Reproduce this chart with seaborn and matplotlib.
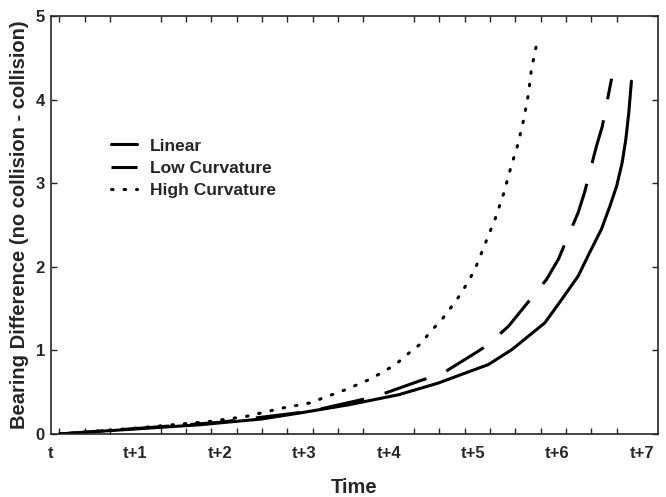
import numpy as np
import pandas as pd
import matplotlib
matplotlib.use('Agg')
import matplotlib.pyplot as plt
import seaborn as sns

# values
linear_time = [0.1, 1.0, 1.76, 2.5, 2.94, 3.53, 4.12, 4.59, 4.91, 5.18, 5.46,
               5.85, 6.05, 6.245, 6.38, 6.52, 6.62, 6.70, 6.765, 6.809, 6.844, 6.875]
linear_diff = [0.0, 0.06, 0.11, 0.18, 0.25, 0.35, 0.47, 0.61, 0.73, 0.83, 1.01,
               1.33, 1.61, 1.89, 2.17, 2.45, 2.725, 2.965, 3.245, 3.525, 3.845, 4.22]

low_time = [0.1, 1.0, 2.0, 3.06, 3.59, 3.85, 4.38, 4.63, 5.06, 5.18, 5.42,
            5.87, 6.01, 6.245, 6.32, 6.46, 6.53, 6.64]
low_diff = [0.0, 0.065, 0.14, 0.27, 0.39, 0.45, 0.64, 0.72, 0.99, 1.07, 1.29,
            1.85, 2.09, 2.65, 2.89, 3.44, 3.68, 4.25]

high_time = [0.1, 1.0, 1.88, 2.31, 2.74, 3.06, 3.49, 3.79, 4.08, 4.23, 4.38,
             4.50, 4.63, 4.75, 4.85, 4.94, 5.02, 5.14, 5.26, 5.36, 5.44, 5.53,
             5.60, 5.655, 5.69, 5.753]
high_diff = [0.0, 0.07, 0.15, 0.21, 0.31, 0.37, 0.53, 0.66, 0.83, 0.96, 1.08,
             1.23, 1.37, 1.53, 1.67, 1.82, 1.965, 2.27, 2.57, 2.87, 3.165, 3.465,
             3.765, 4.065, 4.36, 4.67]

curve_names = ['Linear', 'Low Curvature', 'High Curvature']
time_labels = ['t', 't+1', 't+2', 't+3', 't+4', 't+5', 't+6', 't+7']

df = pd.concat([
    pd.DataFrame({'time': linear_time, 'diff': linear_diff, 'curve': 'Linear'}),
    pd.DataFrame({'time': low_time, 'diff': low_diff, 'curve': 'Low Curvature'}),
    pd.DataFrame({'time': high_time, 'diff': high_diff, 'curve': 'High Curvature'}),
], ignore_index=True)

sns.set_style('ticks')
plt.rcParams['font.family'] = ['Liberation Sans', 'DejaVu Sans']
plt.rcParams['font.weight'] = 'bold'

fig = plt.figure(figsize=(6.66, 4.97), dpi=100)
ax = fig.add_axes([0.0766, 0.1268, 0.9114, 0.841])

sns.lineplot(data=df, x='time', y='diff', hue='curve', style='curve',
             hue_order=curve_names, style_order=curve_names,
             palette=['black'] * 3,
             dashes={'Linear': '', 'Low Curvature': (14.5, 7),
                     'High Curvature': (0.5, 3.6)},
             sort=False, linewidth=2.2, ax=ax)

for ln in ax.get_lines():
    ln.set_dash_capstyle('butt')
ax.get_lines()[2].set_dash_capstyle('round')

ax.set_xlim(0, 7.19)
ax.set_ylim(0, 5)
ax.set_xticks(range(8))
ax.set_xticklabels(time_labels)
ax.set_xticks(np.arange(0.1, 7.05, 0.3), minor=True)
ax.set_yticks(range(6))
ax.tick_params(axis='x', which='major', length=0, pad=9, labelsize=12)
ax.tick_params(axis='x', which='minor', direction='in', length=4, width=1,
               top=True, bottom=True)
ax.tick_params(axis='y', which='major', direction='in', length=4, width=1,
               left=True, right=True, labelsize=12, pad=4.5)
for sp in ax.spines.values():
    sp.set_linewidth(1.2)

ax.set_xlabel('Time', fontsize=14.5, fontweight='bold', labelpad=12)
ax.set_ylabel('Bearing Difference (no collision - collision)', fontsize=14.5,
              fontweight='bold', labelpad=5)

leg = ax.legend(loc='upper left', bbox_to_anchor=(0.084, 0.728), frameon=False,
                fontsize=12.5, handlelength=1.5, handletextpad=0.75,
                borderpad=0, labelspacing=0.4)
for t in leg.get_texts():
    t.set_fontweight('bold')
for i, h in enumerate(leg.get_lines()):
    h.set_linewidth(2.2)
    if i == 2:
        h.set_dash_capstyle('round')

fig.savefig('out.png', dpi=100)
